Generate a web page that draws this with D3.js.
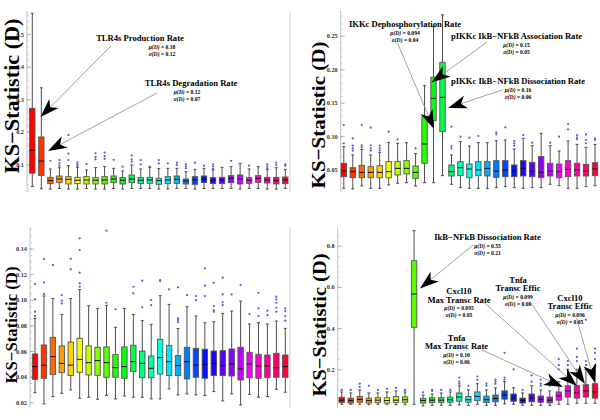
<!DOCTYPE html>
<html><head><meta charset="utf-8">
<script src="https://cdn.jsdelivr.net/npm/d3@7"></script>
<style>body{margin:0;background:#fff}svg{display:block}</style>
</head><body>
<svg id="c" width="600" height="420"></svg>
<script>
// ---------- DATA ----------
const params = d3.range(1, 30); // 29 model parameters

// Panel A (top-left)
const lowA  = [0.032,0.025,0.024,0.026,0.024,0.024,0.026,0.024,0.024,0.026,0.024,0.026,0.026,0.026,0.024,0.024,0.026,0.026,0.024,0.026,0.026,0.026,0.026,0.024,0.026,0.026,0.024,0.024,0.026];
const q1A   = [0.073,0.066,0.0407,0.0437,0.0396,0.0407,0.0396,0.0396,0.0396,0.0437,0.0396,0.0437,0.0407,0.0417,0.0386,0.0407,0.0417,0.0396,0.0386,0.0437,0.0407,0.0407,0.0437,0.0396,0.0417,0.0447,0.0427,0.0396,0.0407];
const medA  = [0.143,0.110,0.0499,0.0549,0.054,0.051,0.052,0.051,0.052,0.0549,0.051,0.0549,0.051,0.052,0.0499,0.052,0.054,0.0488,0.052,0.0549,0.051,0.052,0.057,0.0549,0.051,0.057,0.052,0.0499,0.052];
const q3A   = [0.272,0.184,0.06,0.0642,0.0621,0.06,0.0621,0.059,0.0621,0.0642,0.059,0.0673,0.059,0.06,0.057,0.0621,0.0642,0.0549,0.0621,0.0642,0.059,0.06,0.0652,0.0673,0.059,0.0652,0.06,0.06,0.061];
const highA = [0.564,0.335,0.0856,0.0897,0.0959,0.0908,0.0826,0.0897,0.093,0.0877,0.0795,0.098,0.0857,0.0908,0.0867,0.0877,0.0877,0.0774,0.0847,0.0877,0.0826,0.0908,0.093,0.103,0.0857,0.093,0.0847,0.0897,0.0847];
const outA  = [[],[],[0.111],[0.113,0.103,0.096],[0.19,0.133,0.113],[0.106,0.1,0.095],[0.101],[0.134,0.123,0.115],[0.136,0.125,0.117],[0.114],[0.0928],[0.127,0.115,0.108],[0.113,0.1],[0.0928],[0.113,0.103],[0.103],[0.105,0.098],[0.1,0.093,0.088],[0.105],[0.096],[0.1,0.093,0.086],[],[0.111],[],[0.096],[],[0.1,0.093,0.088],[0.105,0.098],[0.1,0.096]];
const ticksA = [0.1,0.2,0.3,0.4,0.5];

// Panel B (top-right)
const lowB  = [0.0222,0.0212,0.0257,0.0222,0.0222,0.0272,0.0297,0.0306,0.0257,0.0306,0.0306,0.0411,0.0282,0.0232,0.0222,0.0222,0.0222,0.0232,0.0247,0.0232,0.0222,0.0232,0.0232,0.0282,0.0262,0.0222,0.0222,0.0247,0.0262];
const q1B   = [0.0396,0.038,0.038,0.038,0.038,0.038,0.0421,0.0436,0.0371,0.0595,0.1232,0.1067,0.0406,0.0411,0.038,0.0411,0.0406,0.0386,0.0396,0.0396,0.0406,0.0396,0.038,0.0406,0.038,0.0396,0.0406,0.0406,0.0411];
const medB  = [0.048,0.047,0.046,0.046,0.046,0.047,0.052,0.052,0.046,0.0884,0.1565,0.158,0.047,0.053,0.051,0.0496,0.052,0.048,0.0496,0.048,0.052,0.048,0.046,0.048,0.047,0.0505,0.0496,0.048,0.051];
const q3B   = [0.0595,0.053,0.0565,0.0545,0.056,0.062,0.062,0.0635,0.0555,0.129,0.188,0.2102,0.057,0.062,0.0585,0.062,0.062,0.0635,0.0635,0.057,0.0635,0.061,0.0695,0.0595,0.0585,0.0635,0.0595,0.058,0.0605];
const highB = [0.0844,0.072,0.0804,0.072,0.0754,0.0908,0.0893,0.0903,0.074,0.1754,0.2634,0.281,0.072,0.0918,0.0853,0.0903,0.0903,0.0933,0.0943,0.0809,0.0968,0.0858,0.1043,0.0858,0.0779,0.0928,0.0878,0.0834,0.0878];
const outB  = [[0.1167,0.0893],[0.0968,0.0858,0.0819,0.0784],[0.1167,0.0863,0.0839],[0.1127,0.0863,0.0819,0.0784],[0.0858,0.0819,0.0784],[0.1067],[0.0953],[],[0.0819],[],[],[],[0.1142,0.0853,0.0819],[0.0993],[0.0978],[0.1003],[],[0.1057,0.1027],[0.1132],[0.0928,0.0893,0.0858],[0.1018],[0.0903],[],[0.0903],[0.0993],[0.1182,0.1102],[0.1018,0.0978,0.0953],[0.1027,0.0943,0.0893],[0.0968,0.0943]];
const ticksB = [0.05,0.10,0.15,0.20,0.25];

// Panel C (bottom-left)
const lowC  = [0.0275,0.0187,0.0244,0.027,0.0296,0.0231,0.0239,0.0223,0.0252,0.0226,0.0249,0.0239,0.0239,0.0226,0.0226,0.0304,0.0257,0.0265,0.0257,0.0252,0.0283,0.021,0.0265,0.0179,0.0262,0.0239,0.0244,0.0301,0.0278];
const q1C   = [0.0379,0.0387,0.0418,0.0431,0.0408,0.0434,0.0413,0.041,0.0395,0.0395,0.0387,0.0439,0.0392,0.0392,0.0421,0.0408,0.0408,0.0382,0.0395,0.0387,0.0408,0.0408,0.0405,0.0374,0.0392,0.0387,0.0392,0.0395,0.0395];
const medC  = [0.0478,0.049,0.0556,0.0504,0.049,0.0535,0.0509,0.0525,0.0509,0.047,0.0478,0.0517,0.0504,0.0465,0.0548,0.0517,0.0486,0.0517,0.049,0.0496,0.0504,0.0486,0.0499,0.046,0.0499,0.0483,0.0483,0.047,0.0478];
const q3C   = [0.0577,0.0647,0.0707,0.064,0.067,0.0699,0.064,0.0629,0.0632,0.0572,0.0632,0.0645,0.06,0.0561,0.0691,0.0642,0.0564,0.0629,0.0621,0.0614,0.06,0.0603,0.0616,0.0629,0.059,0.0574,0.0569,0.0582,0.0569];
const highC = [0.0855,0.103,0.101,0.0886,0.101,0.108,0.0954,0.0933,0.0957,0.0785,0.0933,0.0886,0.0837,0.0808,0.1032,0.0964,0.0775,0.0946,0.0873,0.0821,0.0829,0.0894,0.0912,0.099,0.0811,0.0821,0.0811,0.0834,0.0777];
const outC  = [[0.1124,0.1003,0.0907,0.0873],[0.1318,0.1136,0.1045],[0.127],[0.1037,0.0993,0.0972],[0.132,0.1238],[0.148,0.1389,0.1212,0.1128,0.1102],[],[],[0.154,0.0977],[0.0926],[],[0.1102,0.105],[0.1149,0.0941],[0.0998,0.0959],[0.1154,0.1146],[0.1081],[0.1097,0.0855,0.0842,0.0824],[0.1037],[0.1029,0.0998],[0.1246,0.111,0.1029],[0.1133,0.0951,0.092,0.0907],[0.1173,0.1042,0.098,0.0959],[0.1042],[0.1115],[0.0889],[0.1055,0.0933,0.0873],[0.0915,0.0881],[0.1024,0.1003,0.0977,0.0938,0.0907],[0.0933,0.0912,0.0873,0.0837]];
const ticksC = [0.02,0.04,0.06,0.08,0.10,0.12,0.14];

// Panel D (bottom-right)
const lowD  = [0.03,0.03,0.03,0.028,0.03,0.03,0.028,0.028,0.03,0.022,0.025,0.025,0.025,0.027,0.025,0.03,0.025,0.025,0.032,0.03,0.025,0.025,0.025,0.025,0.03,0.03,0.035,0.035,0.035];
const q1D   = [0.038,0.036,0.04,0.036,0.038,0.036,0.038,0.04,0.404,0.036,0.038,0.038,0.04,0.045,0.04,0.048,0.038,0.042,0.055,0.045,0.036,0.042,0.04,0.037,0.05,0.065,0.06,0.065,0.06];
const medD  = [0.05,0.048,0.054,0.048,0.05,0.048,0.05,0.052,0.5655,0.048,0.05,0.05,0.052,0.065,0.052,0.068,0.052,0.058,0.075,0.06,0.048,0.06,0.055,0.05,0.07,0.095,0.085,0.095,0.09];
const q3D   = [0.064,0.06,0.068,0.06,0.062,0.062,0.068,0.066,0.727,0.059,0.062,0.062,0.065,0.085,0.068,0.09,0.07,0.075,0.095,0.08,0.06,0.08,0.07,0.065,0.09,0.12,0.12,0.125,0.13];
const highD = [0.09,0.085,0.1,0.085,0.085,0.09,0.095,0.09,0.873,0.075,0.08,0.085,0.09,0.12,0.1,0.13,0.1,0.11,0.14,0.11,0.085,0.12,0.1,0.095,0.14,0.2,0.2,0.2,0.22];
const outD  = [[0.1],[0.1],[0.13,0.115],[0.12],[0.1],[0.105],[0.11],[0.1],[],[0.088],[0.1,0.095],[0.1],[0.1],[0.13,0.14,0.16],[0.12],[0.15,0.165],[0.12,0.13],[0.13,0.14,0.15],[0.15,0.16,0.28],[0.2],[0.1],[0.14,0.17],[0.12,0.13,0.15],[0.12,0.14],[0.2,0.22,0.25],[0.22,0.24],[0.24,0.26,0.3],[0.22,0.24,0.44],[0.25,0.28,0.3]];
const ticksD = [0.2,0.4,0.6,0.8];

// Annotation texts
const annA = [
  {title:["TLR4s Production Rate"], mu:"0.18", sd:"0.12"},
  {title:["TLR4s Degradation Rate"], mu:"0.12", sd:"0.07"}
];
const annB = [
  {title:["IKKc Dephosphorylation Rate"], mu:"0.094", sd:"0.04"},
  {title:["pIKKc IkB\u2212NFkB Association Rate"], mu:"0.15", sd:"0.05"},
  {title:["pIKKc IkB\u2212NFkB Dissociation Rate"], mu:"0.16", sd:"0.06"}
];
const annD = [
  {title:["IkB\u2212NFkB Dissociation Rate"], mu:"0.55", sd:"0.21"},
  {title:["Cxcl10","Max Transc Rate"], mu:"0.095", sd:"0.05"},
  {title:["Tnfa","Transc Effic"], mu:"0.099", sd:"0.06"},
  {title:["Cxcl10","Transc Effic"], mu:"0.096", sd:"0.05"},
  {title:["Tnfa","Max Transc Rate"], mu:"0.10", sd:"0.06"}
];
const yTitle = "KS\u2212Statistic (D)";

// ---------- LAYOUT ----------
const panels = [
  {low:lowA,q1:q1A,med:medA,q3:q3A,high:highA,out:outA,ticks:ticksA,fmt:".1f",
   minor:d3.range(0.02,0.57,0.02),
   axisX:27, xRange:[32.3,285.3], yDomain:[0.015,0.57], yRange:[192.0,11.3], rightX:290,
   title:{x:11.5,y:96,len:155,size:20},
   ann:annA, annPos:[{x:140,sx0:162,y:41,sx:111,sy:46,tx:40.5,ty:117},{x:191,sx0:187,y:86,sx:157,sy:93,tx:48,ty:151}]},
  {low:lowB,q1:q1B,med:medB,q3:q3B,high:highB,out:outB,ticks:ticksB,fmt:".2f",
   minor:d3.range(0.02,0.29,0.01),
   axisX:340.7, xRange:[343.8,595], yDomain:[0.017,0.287], yRange:[191.8,10.9], rightX:null,
   title:{x:318.5,y:115,len:147,size:19.5},
   ann:annB, annPos:[{x:405,y:27,sx:397.5,sy:43,tx:434,ty:129},{x:516.5,y:39,sx:487,sy:42,tx:431.5,ty:82.5},{x:518,y:84,sx:502,sy:90,tx:448,ty:108}]},
  {low:lowC,q1:q1C,med:medC,q3:q3C,high:highC,out:outC,ticks:ticksC,fmt:".2f",
   minor:d3.range(0.02,0.157,0.005),
   axisX:30, xRange:[35,285.3], yDomain:[0.0155,0.157], yRange:[408.0,226.8], rightX:290,
   title:{x:11,y:325,len:117,size:16},
   ann:[], annPos:[]},
  {low:lowD,q1:q1D,med:medD,q3:q3D,high:highD,out:outD,ticks:ticksD,fmt:".1f",
   minor:d3.range(0.05,0.89,0.05),
   axisX:337.7, xRange:[341.7,595], yDomain:[0.012,0.89], yRange:[408.0,227.2], rightX:null,
   title:{x:319.5,y:325,len:143,size:19},
   ann:annD, annPos:[{x:487.5,y:240,sx:473,sy:245,tx:420,ty:288.5},
                     {x:459,y:294,sx:484,sy:302.5,tx:577,ty:386},
                     {x:518,y:282.5,sx:530,sy:301.5,tx:585,ty:384},
                     {x:570,y:300.5,sx:576.5,sy:318,tx:595,ty:383},
                     {x:456.5,y:340.5,sx:482,sy:350,tx:563,ty:387}]}
];

const svg = d3.select("#c");
const serif = "'Liberation Serif','DejaVu Serif',Times,serif";
const color = i => d3.hsl(i * 360 / 29, 1, 0.5).toString();

panels.forEach(P => {
  const g = svg.append("g");
  const x = d3.scalePoint().domain(params).range(P.xRange);
  const y = d3.scaleLinear().domain(P.yDomain).range(P.yRange);
  const bw = 5.4;

  // frame
  g.append("line").attr("x1",P.axisX).attr("x2",P.axisX).attr("y1",P.yRange[0]).attr("y2",P.yRange[1])
    .attr("stroke","#b0b0b0").attr("stroke-width",0.8);
  if (P.rightX) g.append("line").attr("x1",P.rightX).attr("x2",P.rightX).attr("y1",P.yRange[0]).attr("y2",P.yRange[1])
    .attr("stroke","#c8c8c8").attr("stroke-width",0.8);

  // minor ticks
  const minorAx = d3.axisLeft(y).tickValues(P.minor).tickSize(-2).tickFormat("");
  const gm = g.append("g").attr("transform",`translate(${P.axisX},0)`).call(minorAx);
  gm.select(".domain").remove();
  gm.selectAll("line").attr("stroke","#b8b8b8").attr("stroke-width",0.6);
  // major ticks
  const ax = d3.axisLeft(y).tickValues(P.ticks).tickFormat(d3.format(P.fmt)).tickSize(-4).tickPadding(3);
  const ga = g.append("g").attr("transform",`translate(${P.axisX},0)`).call(ax);
  ga.select(".domain").remove();
  ga.selectAll("line").attr("stroke","#999").attr("stroke-width",0.7);
  ga.selectAll("text").attr("font-family",serif).attr("font-weight","bold").attr("font-size",6.3).attr("fill","#333");

  // y title
  g.append("text").attr("transform",`translate(${P.title.x},${P.title.y}) rotate(-90)`)
    .attr("text-anchor","middle").attr("dominant-baseline","central")
    .attr("font-family",serif).attr("font-weight","bold").attr("font-size",P.title.size)
    .attr("textLength",P.title.len).attr("lengthAdjust","spacingAndGlyphs")
    .text(yTitle);

  // boxes
  params.forEach((p, i) => {
    const cx = x(p);
    const bg = g.append("g");
    const wc = "#3a3a3a";
    bg.append("line").attr("x1",cx).attr("x2",cx).attr("y1",y(P.q3[i])).attr("y2",y(P.high[i])).attr("stroke",wc).attr("stroke-width",0.9);
    bg.append("line").attr("x1",cx).attr("x2",cx).attr("y1",y(P.q1[i])).attr("y2",y(P.low[i])).attr("stroke",wc).attr("stroke-width",0.9);
    bg.append("line").attr("x1",cx-1.5).attr("x2",cx+1.5).attr("y1",y(P.high[i])).attr("y2",y(P.high[i])).attr("stroke",wc).attr("stroke-width",0.9);
    bg.append("line").attr("x1",cx-1.5).attr("x2",cx+1.5).attr("y1",y(P.low[i])).attr("y2",y(P.low[i])).attr("stroke",wc).attr("stroke-width",0.9);
    bg.append("rect").attr("x",cx-bw/2).attr("width",bw).attr("y",y(P.q3[i])).attr("height",y(P.q1[i])-y(P.q3[i]))
      .attr("fill",color(i)).attr("stroke","#555").attr("stroke-width",0.9);
    bg.append("line").attr("x1",cx-bw/2).attr("x2",cx+bw/2).attr("y1",y(P.med[i])).attr("y2",y(P.med[i])).attr("stroke","#111").attr("stroke-width",1);
    P.out[i].forEach(v => bg.append("circle").attr("cx",cx).attr("cy",y(v)).attr("r",1.1).attr("fill","#5a5ad8"));
  });

  // annotations
  P.ann.forEach((a, k) => {
    const pos = P.annPos[k];
    const dx = pos.tx - pos.sx, dy = pos.ty - pos.sy, L = Math.hypot(dx, dy);
    const ux = dx / L, uy = dy / L, nx = -uy, ny = ux;
    const AL = 19, AW = 6.5;
    g.append("line").attr("x1",pos.sx).attr("y1",pos.sy).attr("x2",pos.tx-ux*AL*0.7).attr("y2",pos.ty-uy*AL*0.7)
      .attr("stroke","#8a8a8a").attr("stroke-width",0.8);
    const bx = pos.tx - ux*AL, by = pos.ty - uy*AL;
    const pts = [[pos.tx,pos.ty],[bx+nx*AW,by+ny*AW],[pos.tx-ux*AL*0.72,pos.ty-uy*AL*0.72],[bx-nx*AW,by-ny*AW]];
    g.append("path").attr("d",d3.line()(pts)+"Z").attr("fill","#000");
    let yy = pos.y;
    a.title.forEach((t, j) => {
      if (j > 0) yy += 8.5;
      g.append("text").attr("x",pos.x).attr("y",yy).attr("text-anchor","middle")
        .attr("font-family",serif).attr("font-weight","bold").attr("font-size",8.6).text(t);
    });
    const statX = pos.sx0 != null ? pos.sx0 : pos.x;
    const stat = (sym, val, yv) => {
      const t = g.append("text").attr("x",statX).attr("y",yv).attr("text-anchor","middle")
        .attr("font-family",serif).attr("font-weight","bold").attr("font-size",5.6);
      t.append("tspan").attr("font-style","italic").text(sym + "(D)");
      t.append("tspan").text(" = " + val);
    };
    stat("\u03bc", a.mu, yy + 7.5);
    stat("\u03c3", a.sd, yy + 14.5);
  });
});
</script>
</body></html>
